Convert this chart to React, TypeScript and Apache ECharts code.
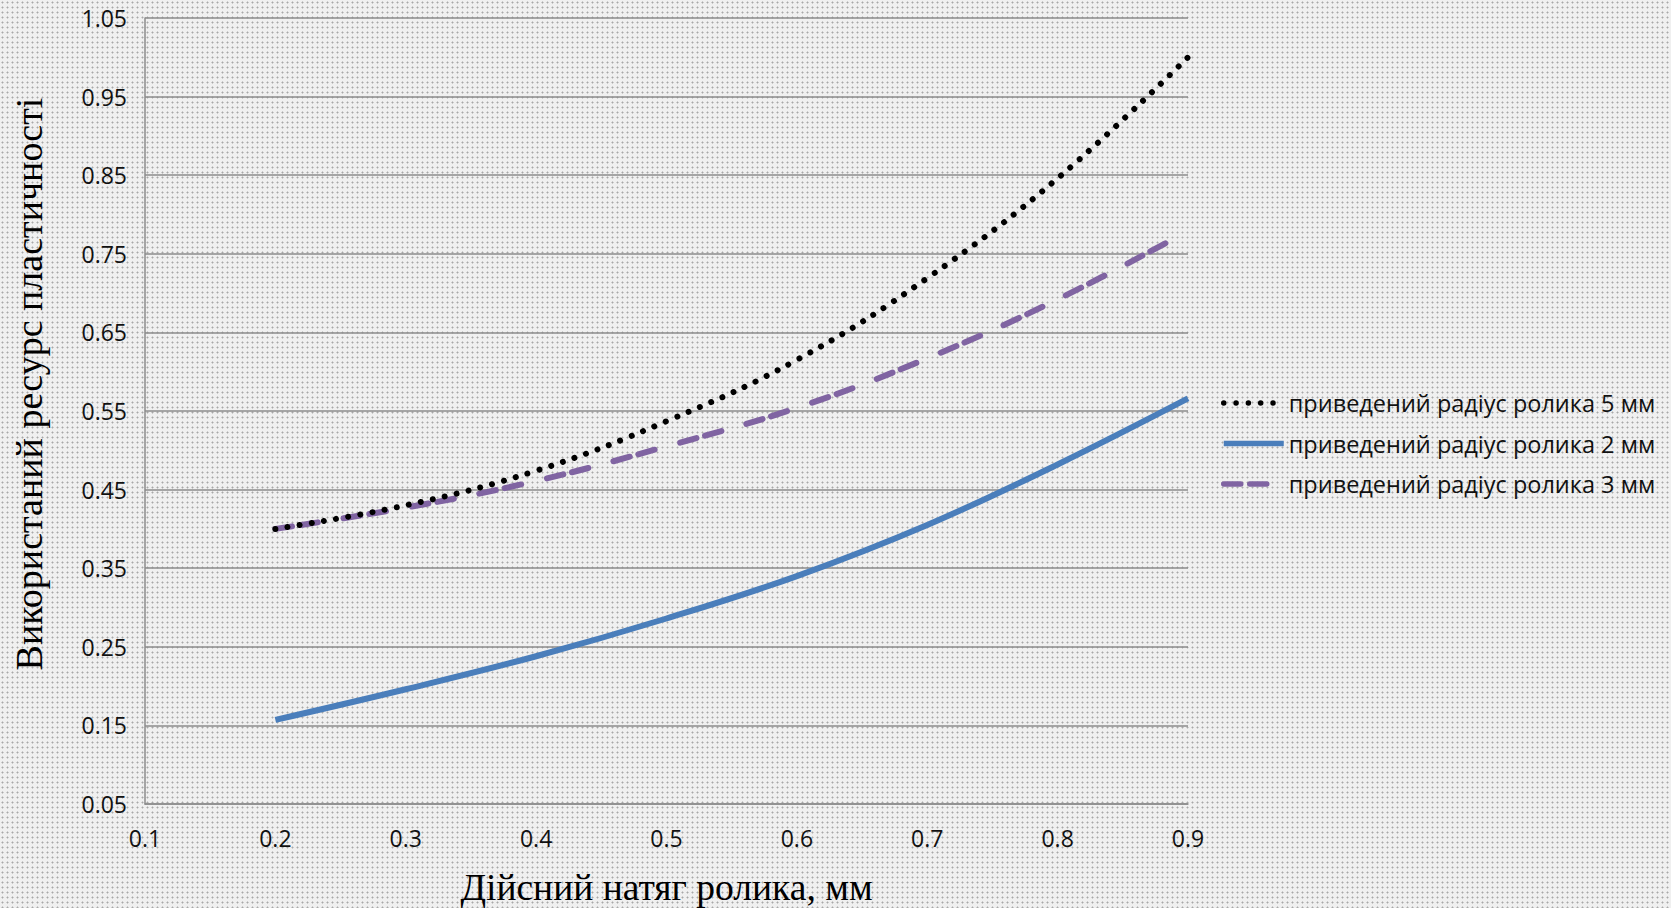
import React, { useEffect, useRef } from "react";
import * as echarts from "echarts";

const xValues = [0.2, 0.3, 0.4, 0.5, 0.6, 0.7, 0.8, 0.9];
const seriesNames = [
  "приведений радіус ролика 5 мм",
  "приведений радіус ролика 2 мм",
  "приведений радіус ролика 3 мм",
];
const radius5 = [0.4, 0.43, 0.474, 0.537, 0.615, 0.719, 0.846, 1.0];
const radius2 = [0.157, 0.196, 0.238, 0.286, 0.34, 0.405, 0.482, 0.566];
const radius3 = [0.4, 0.427, 0.461, 0.505, 0.554, 0.617, 0.692, 0.779];
const xAxisTitle = "Дійсний натяг ролика, мм";
const yAxisTitle = "Використаний ресурс пластичності";

const pairs = (ys: number[]) => xValues.map((x, i) => [x, ys[i]]);

export default function App() {
  const ref = useRef<HTMLDivElement>(null);
  useEffect(() => {
    if (!ref.current) return;
    const chart = echarts.init(ref.current, null, { renderer: "svg" });
    const sans = "'Open Sans', 'Noto Sans', sans-serif";
    const serif = "'Liberation Serif', 'DejaVu Serif', serif";
    chart.setOption({
      animation: false,
      backgroundColor: "transparent",
      grid: {
        left: 145,
        right: 483,
        top: 18,
        bottom: 104,
        containLabel: false,
        outerBoundsMode: "none",
      },
      legend: {
        orient: "vertical",
        left: 1216,
        top: 386,
        itemWidth: 60,
        itemHeight: 14,
        itemGap: 16.5,
        data: seriesNames,
        itemStyle: { opacity: 0, borderWidth: 0 },
        lineStyle: { width: 5.5 },
        textStyle: { fontFamily: sans, fontSize: 23.5, color: "#111" },
      },
      xAxis: {
        type: "value",
        min: 0.1,
        max: 0.9,
        interval: 0.1,
        name: xAxisTitle,
        nameLocation: "middle",
        nameGap: 64,
        nameTextStyle: { fontFamily: serif, fontSize: 37.5, color: "#000" },
        axisLine: { show: true, lineStyle: { color: "#8c8c8c", width: 1.5 } },
        axisTick: { show: false },
        splitLine: { show: false },
        axisLabel: {
          margin: 22,
          fontFamily: sans,
          fontSize: 23,
          color: "#111",
          formatter: (v: number) => v.toFixed(1),
        },
      },
      yAxis: {
        type: "value",
        min: 0.05,
        max: 1.05,
        interval: 0.1,
        axisLine: { show: true, lineStyle: { color: "#8c8c8c", width: 1.5 } },
        axisTick: { show: false },
        splitLine: { show: true, lineStyle: { color: "#8c8c8c", width: 1.5 } },
        axisLabel: {
          margin: 18,
          fontFamily: sans,
          fontSize: 23,
          color: "#111",
          formatter: (v: number) => v.toFixed(2),
        },
      },
      graphic: [
        {
          type: "text",
          x: 29,
          y: 384,
          rotation: Math.PI / 2,
          style: {
            text: yAxisTitle,
            font: `38px ${serif}`,
            fill: "#000",
            textAlign: "center",
            textVerticalAlign: "middle",
          },
        },
      ],
      series: [
        {
          name: seriesNames[0],
          type: "line",
          smooth: 0.4,
          showSymbol: false,
          symbol: "none",
          data: pairs(radius5),
          itemStyle: { color: "#000000" },
          lineStyle: { color: "#000000", width: 6, type: [0.01, 12.3], cap: "round" },
          z: 4,
        },
        {
          name: seriesNames[1],
          type: "line",
          smooth: 0.4,
          showSymbol: false,
          symbol: "none",
          data: pairs(radius2),
          itemStyle: { color: "#4a7ebb" },
          lineStyle: { color: "#4a7ebb", width: 6 },
          z: 3,
        },
        {
          name: seriesNames[2],
          type: "line",
          smooth: 0.4,
          showSymbol: false,
          symbol: "none",
          data: pairs(radius3),
          itemStyle: { color: "#8064a2" },
          lineStyle: { color: "#8064a2", width: 6, type: [17, 9, 17, 26], cap: "round" },
          z: 3,
        },
      ],
    });
    return () => chart.dispose();
  }, []);
  return (
    <div
      ref={ref}
      style={{
        position: "absolute",
        left: 0,
        top: 0,
        width: 1671,
        height: 908,
        backgroundColor: "#f0f0f0",
        backgroundImage: "radial-gradient(circle, #a8a8a8 0.9px, transparent 1.1px)",
        backgroundSize: "5px 5px",
      }}
    />
  );
}
